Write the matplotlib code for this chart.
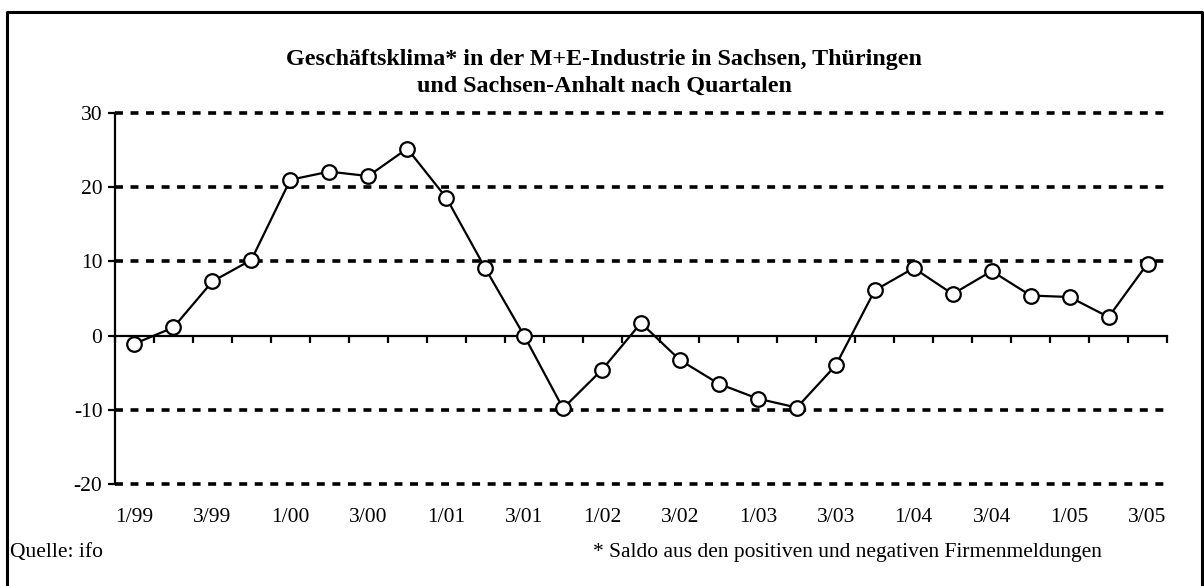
import numpy as np
import matplotlib.pyplot as plt
from matplotlib.lines import Line2D

plt.rcParams['font.family'] = ['Liberation Serif', 'DejaVu Serif']

quarters = ["1/99", "2/99", "3/99", "4/99",
            "1/00", "2/00", "3/00", "4/00",
            "1/01", "2/01", "3/01", "4/01",
            "1/02", "2/02", "3/02", "4/02",
            "1/03", "2/03", "3/03", "4/03",
            "1/04", "2/04", "3/04", "4/04",
            "1/05", "2/05", "3/05"]
klima = [-1.1, 1.1, 7.3, 10.2,
         21.0, 22.1, 21.5, 25.2,
         18.6, 9.1, 0.0, -9.8,
         -4.6, 1.7, -3.3, -6.5,
         -8.5, -9.7, -4.0, 6.1,
         9.1, 5.6, 8.7, 5.4,
         5.2, 2.5, 9.7]
y_ticks = [-20, -10, 0, 10, 20, 30]
grid_levels = [-20, -10, 10, 20, 30]

x = np.arange(len(quarters))
fs = 15.5

fig = plt.figure(figsize=(12.04, 5.86), dpi=100)
ax = fig.add_axes([115 / 1204, 1 - 484 / 586, 1052 / 1204, 371 / 586])

ax.set_xlim(-0.5, len(quarters) - 0.5)
ax.set_ylim(-20, 30)

# dotted grid lines (Excel style)
for lvl in grid_levels:
    ax.axhline(lvl, color="black", lw=2.6, linestyle=(0, (2.2, 2.1)),
               zorder=1, clip_on=False)

ax.plot(x, klima, color="black", lw=1.6, marker="o", markersize=10.5,
        markerfacecolor="white", markeredgecolor="black", markeredgewidth=1.6,
        zorder=3, clip_on=False)

for side in ["top", "right"]:
    ax.spines[side].set_visible(False)
ax.spines["left"].set_linewidth(1.6)
ax.spines["bottom"].set_linewidth(1.6)
ax.spines["bottom"].set_position(("data", 0))

ax.set_yticks(y_ticks)
ax.set_yticklabels([str(v) for v in y_ticks], fontsize=fs)
ax.tick_params(axis="y", direction="out", length=5, width=1.6, pad=4)

ax.set_xticks(np.arange(-0.5, len(quarters), 1.0))
ax.set_xticklabels([])
ax.tick_params(axis="x", direction="out", length=5, width=1.6)

for i in range(0, len(quarters), 2):
    ax.text(i, -0.089, quarters[i], transform=ax.get_xaxis_transform(),
            ha="center", va="center", fontsize=fs)

fig.text(604 / 1204, 1 - 73 / 586, "Geschäftsklima* in der M+E-Industrie in Sachsen, Thüringen\n"
         "und Sachsen-Anhalt nach Quartalen", ha="center", va="center",
         fontsize=17.3, fontweight="bold", linespacing=1.38)

fig.text(10 / 1204, 1 - 553 / 586, "Quelle: ifo", ha="left", va="center", fontsize=fs)
fig.text(593 / 1204, 1 - 553 / 586,
         "* Saldo aus den positiven und negativen Firmenmeldungen",
         ha="left", va="center", fontsize=fs)

# outer frame (open at the bottom)
W, H = 1204, 586
fx = [7 / W, 7 / W, 1202 / W, 1202 / W]
fy = [0, 1 - 12 / H, 1 - 12 / H, 0]
fig.add_artist(Line2D(fx, fy, transform=fig.transFigure, color="black", lw=2.2))

fig.savefig("out.png", dpi=100)
